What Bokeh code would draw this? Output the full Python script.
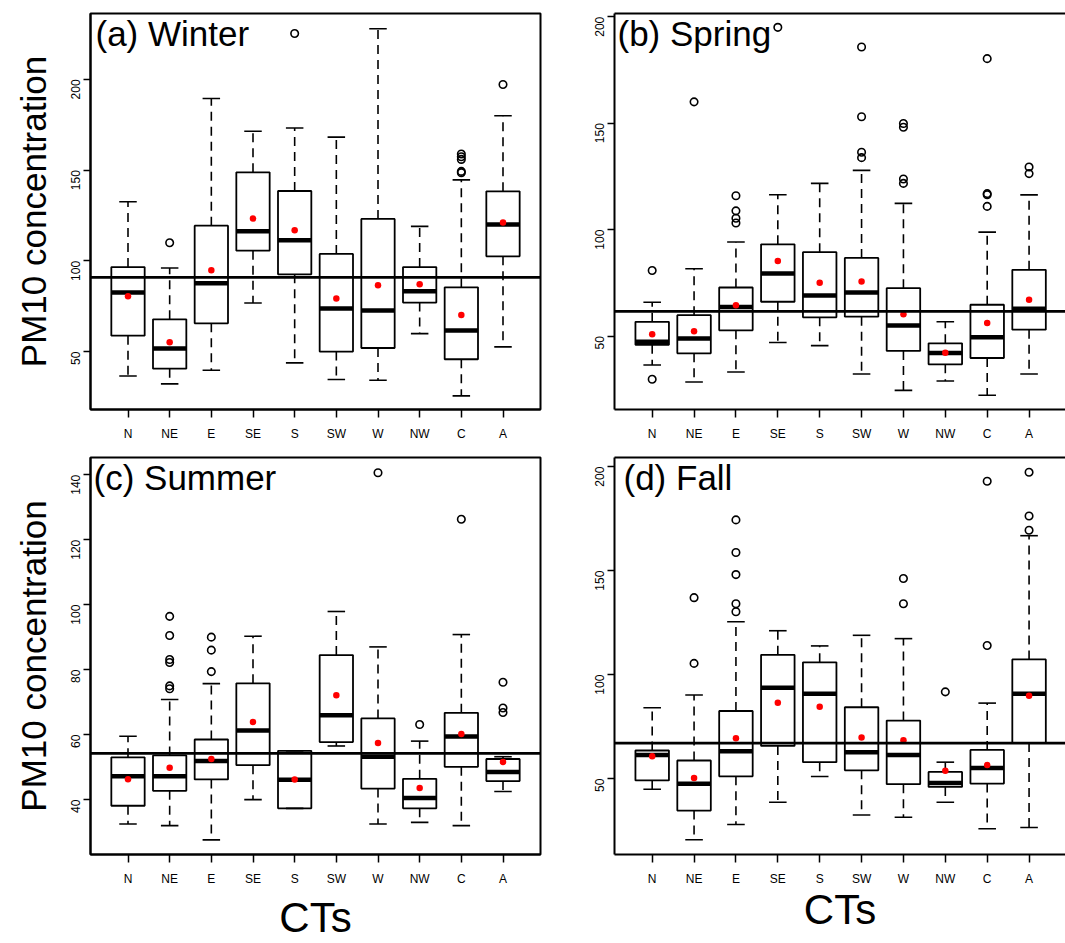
import math
from bokeh.plotting import figure
from bokeh.layouts import row, column
from bokeh.models import Range1d, FixedTicker, Span, Label, LinearAxis, ColumnDataSource
from bokeh.embed import file_html
from bokeh.resources import INLINE
from bokeh.core.properties import value

# ---------------- data ----------------
cats = ["N", "NE", "E", "SE", "S", "SW", "W", "NW", "C", "A"]

winter_lo = [36.6, 32.2, 39.7, 76.8, 43.8, 34.6, 34.2, 59.9, 25.6, 52.6]
winter_q1 = [58.8, 40.6, 65.6, 105.6, 92.6, 50.0, 52.0, 77.0, 45.8, 102.5]
winter_med = [82.5, 51.7, 87.6, 116.3, 111.3, 73.7, 72.6, 83.2, 61.6, 120.1]
winter_q3 = [96.6, 67.8, 119.4, 148.8, 138.5, 103.8, 123.1, 96.6, 85.4, 138.3]
winter_hi = [132.6, 96.1, 189.5, 171.4, 173.2, 168.2, 227.9, 119.0, 144.6, 180.0]
winter_mean = [80.5, 55.1, 94.8, 123.3, 116.8, 79.2, 86.5, 87.1, 70.2, 121.2]
winter_out = [[], [110.0], [], [], [225.3], [], [], [],
              [158.9, 157.4, 155.9, 149.3, 148.6], [197.2]]
winter_all = 90.9

spring_lo = [36.4, 28.4, 33.1, 47.0, 45.5, 32.2, 24.5, 28.9, 22.2, 32.2]
spring_q1 = [45.9, 41.9, 52.7, 66.1, 58.8, 59.1, 43.0, 36.7, 39.7, 53.0]
spring_med = [47.3, 48.9, 63.6, 79.4, 69.1, 70.5, 55.0, 42.0, 49.4, 62.8]
spring_q3 = [56.7, 59.8, 72.8, 93.1, 89.4, 86.7, 72.5, 46.6, 64.7, 81.1]
spring_hi = [65.9, 81.6, 94.2, 116.4, 121.7, 127.8, 112.3, 56.7, 98.8, 116.3]
spring_mean = [50.8, 52.2, 64.5, 85.3, 75.0, 75.6, 60.2, 42.2, 56.1, 67.0]
spring_out = [[80.8, 29.7], [160.0], [115.9, 108.8, 105.3, 103.1], [195.0], [],
              [185.8, 153.0, 136.3, 133.8], [149.8, 148.1, 123.8, 121.7], [],
              [180.3, 116.9, 116.4, 110.9], [129.4, 126.3]]
spring_all = 61.6

summer_lo = [32.5, 32.0, 27.6, 40.0, 37.3, 56.5, 32.5, 33.0, 32.0, 42.5]
summer_q1 = [38.1, 42.7, 46.2, 50.6, 37.3, 57.7, 43.4, 37.3, 50.1, 45.7]
summer_med = [47.2, 47.2, 51.9, 61.3, 46.1, 66.0, 53.2, 40.5, 59.4, 48.5]
summer_q3 = [53.0, 53.6, 58.5, 75.8, 55.0, 84.5, 65.0, 46.4, 66.7, 52.5]
summer_hi = [59.5, 70.8, 75.7, 90.3, 55.0, 97.9, 87.0, 58.0, 90.8, 53.2]
summer_mean = [46.3, 49.8, 52.5, 63.9, 46.2, 72.1, 57.4, 43.6, 60.2, 51.6]
summer_out = [[], [96.4, 90.5, 83.1, 82.2, 75.0, 74.1], [90.0, 86.0, 79.4], [], [], [],
              [140.6], [63.1], [126.3], [76.1, 68.2, 66.8]]
summer_all = 54.2

fall_lo = [44.9, 20.6, 27.9, 38.6, 51.0, 32.5, 31.4, 38.6, 25.9, 26.5]
fall_q1 = [49.1, 34.6, 51.1, 65.7, 57.9, 54.0, 47.3, 46.0, 47.6, 67.1]
fall_med = [61.4, 47.5, 63.2, 93.7, 90.8, 62.7, 61.4, 47.9, 55.1, 90.8]
fall_q3 = [63.5, 58.7, 82.5, 109.5, 105.9, 84.3, 77.9, 53.2, 63.8, 107.3]
fall_hi = [84.1, 90.2, 125.4, 121.1, 113.8, 118.9, 117.3, 57.9, 86.3, 166.8]
fall_mean = [60.8, 50.3, 69.4, 86.5, 84.6, 69.8, 68.4, 53.8, 56.5, 89.8]
fall_out = [[], [137.0, 105.4], [174.4, 158.7, 148.1, 134.1, 130.2], [], [], [],
            [146.2, 134.1], [91.7], [193.0, 114.0], [197.3, 176.3, 169.4]]
fall_all = 67.1

titles = ["(a) Winter", "(b) Spring", "(c) Summer", "(d) Fall"]
y_label = "PM10 concentration"
x_label = "CTs"

# ---------------- style ----------------
FONT = "Liberation Sans"
BOXW = 0.4      # half box width
STAPLE = 0.21   # half staple width


def panel(title, lo, q1, med, q3, hi, mean, out, overall, yr, yticks,
          W, H, bl, br, bt, bb, x_end, show_ylab, show_xlab, xlab_standoff,
          tdx, tdy, open_right):
    p = figure(width=W, height=H, x_range=Range1d(0.1, x_end), y_range=Range1d(*yr),
               output_backend="svg", toolbar_location=None,
               min_border_left=bl, min_border_right=br, min_border_top=bt,
               min_border_bottom=bb)
    p.background_fill_color = "white"
    p.border_fill_color = "white"
    p.xgrid.visible = False
    p.ygrid.visible = False

    n = len(cats)
    xs = [i + 1 for i in range(n)]

    # axes (bottom / left)
    xa = p.below[0]
    ya = p.left[0]
    xa.ticker = FixedTicker(ticks=xs)
    xa.major_label_overrides = {x: c for x, c in zip(xs, cats)}
    ya.ticker = FixedTicker(ticks=yticks)
    ya.major_label_orientation = math.pi / 2
    for ax in (xa, ya):
        ax.axis_line_width = 2
        ax.axis_line_color = "black"
        ax.major_tick_in = 0
        ax.major_tick_line_width = 1.5
        ax.major_tick_line_color = "black"
        ax.minor_tick_line_color = None
        ax.major_label_text_font = FONT
        ax.major_label_text_font_size = "12px"
        ax.major_label_text_color = "black"
        ax.axis_label_text_font = FONT
        ax.axis_label_text_font_style = "normal"
        ax.axis_label_text_color = "black"
    xa.major_tick_out = 8
    ya.major_tick_out = 7
    xa.major_label_standoff = 9
    ya.major_label_standoff = 8
    if show_ylab:
        ya.axis_label = y_label
        ya.axis_label_text_font_size = "35px"
        ya.axis_label_standoff = 11
    if show_xlab:
        xa.axis_label = x_label
        xa.axis_label_text_font_size = "42px"
        xa.axis_label_standoff = xlab_standoff

    if open_right:
        p.outline_line_color = None
        top = LinearAxis(ticker=FixedTicker(ticks=[]), axis_line_width=2,
                         axis_line_color="black", major_tick_line_color=None,
                         minor_tick_line_color=None, major_label_text_font_size="0px",
                         major_tick_out=0, major_tick_in=0, major_label_standoff=0)
        p.add_layout(top, "above")
    else:
        p.outline_line_color = "black"
        p.outline_line_width = 2
        p.outline_line_alpha = 1.0

    src = ColumnDataSource(dict(
        x=xs, xl=[x - BOXW for x in xs], xr=[x + BOXW for x in xs],
        sl=[x - STAPLE for x in xs], sr=[x + STAPLE for x in xs],
        lo=lo, q1=q1, med=med, q3=q3, hi=hi, mean=mean))

    # whiskers
    p.segment(x0="x", y0="q3", x1="x", y1="hi", source=src, line_color="black",
              line_width=1.6, line_dash="9 6")
    p.segment(x0="x", y0="q1", x1="x", y1="lo", source=src, line_color="black",
              line_width=1.6, line_dash="9 6")
    # staples
    p.segment(x0="sl", y0="hi", x1="sr", y1="hi", source=src, line_color="black", line_width=1.6)
    p.segment(x0="sl", y0="lo", x1="sr", y1="lo", source=src, line_color="black", line_width=1.6)
    # boxes
    p.quad(left="xl", right="xr", bottom="q1", top="q3", source=src, fill_color=None,
           line_color="black", line_width=1.8)
    # medians
    p.segment(x0="xl", y0="med", x1="xr", y1="med", source=src, line_color="black",
              line_width=4.5, line_cap="butt")
    # outliers
    ox, oy = [], []
    for i, vals in enumerate(out):
        for v in vals:
            ox.append(xs[i])
            oy.append(v)
    p.scatter(ox, oy, size=7.5, marker="circle", fill_color=None, line_color="black",
              line_width=1.6)
    # means
    p.scatter(x="x", y="mean", source=src, size=6.5, marker="circle", fill_color="red",
              line_color=None)
    # overall mean line
    p.add_layout(Span(location=overall, dimension="width", line_color="black", line_width=2.8))

    p.add_layout(Label(x=0.1, y=yr[1], text=title, text_font=FONT, text_font_size="35px",
                       text_baseline="top", text_align="left", text_color="black",
                       x_offset=tdx, y_offset=tdy))
    return p


pa = panel(titles[0], winter_lo, winter_q1, winter_med, winter_q3, winter_hi, winter_mean,
           winter_out, winter_all, (18.1, 236.3), [50, 100, 150, 200],
           568, 445, 90, 28, 13, 36, 10.9, True, False, 0, 5, 0, False)
pb = panel(titles[1], spring_lo, spring_q1, spring_med, spring_q3, spring_hi, spring_mean,
           spring_out, spring_all, (15.5, 201.5), [50, 100, 150, 200],
           497, 445, 46, 0, 12, 36, 10.87, False, False, 0, 3, 0, True)
pc = panel(titles[2], summer_lo, summer_q1, summer_med, summer_q3, summer_hi, summer_mean,
           summer_out, summer_all, (23.1, 145.3), [40, 60, 80, 100, 120, 140],
           568, 498, 90, 28, 12, 84, 10.9, True, True, 5, 3, 0, False)
pd_ = panel(titles[3], fall_lo, fall_q1, fall_med, fall_q3, fall_hi, fall_mean,
            fall_out, fall_all, (13.5, 204.4), [50, 100, 150, 200],
            497, 498, 46, 0, 11, 86, 10.87, False, True, -3, 9, 0, True)

layout = column(row(pa, pb), row(pc, pd_))
open("out.html", "w").write(file_html(layout, INLINE))
